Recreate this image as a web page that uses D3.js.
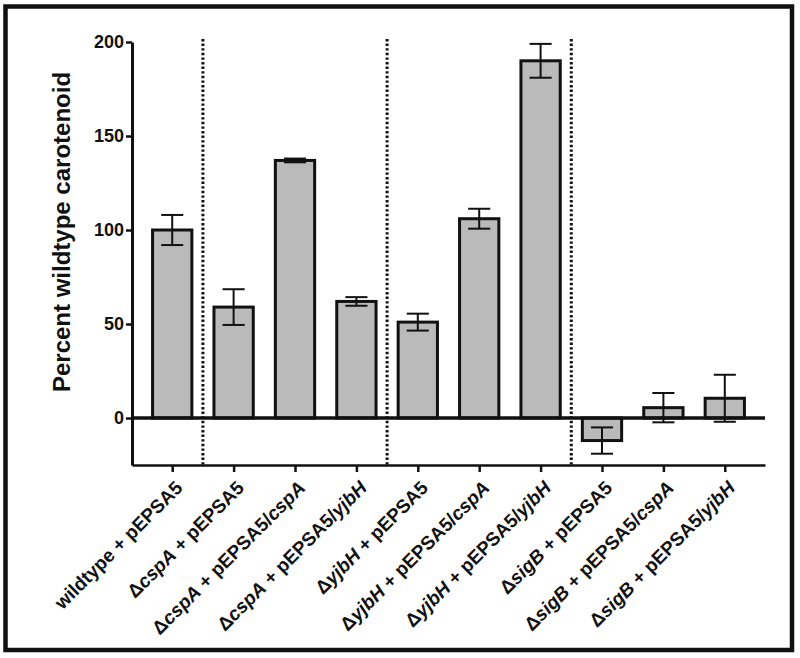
<!DOCTYPE html>
<html>
<head>
<meta charset="utf-8">
<script src="https://cdn.jsdelivr.net/npm/d3@7"></script>
<style>
  body { margin: 0; background: #fff; }
  svg { display: block; }
  text { font-family: "Liberation Sans", Arial, Helvetica, sans-serif; font-weight: bold; fill: #111; }
</style>
</head>
<body>
<svg id="chart" width="800" height="658"></svg>
<script>
// data
const categories = [
  "wildtype + pEPSA5",
  "ΔcspA + pEPSA5",
  "ΔcspA + pEPSA5/cspA",
  "ΔcspA + pEPSA5/yjbH",
  "ΔyjbH + pEPSA5",
  "ΔyjbH + pEPSA5/cspA",
  "ΔyjbH + pEPSA5/yjbH",
  "ΔsigB + pEPSA5",
  "ΔsigB + pEPSA5/cspA",
  "ΔsigB + pEPSA5/yjbH"
];
const means = [100, 59, 137, 62, 51, 106, 190, -12, 5.5, 10.5];
const errors = [8, 9.5, 1, 2.3, 4.5, 5.3, 9, 7, 7.8, 12.5];
const groupStarts = [1, 4, 7];           // index of first bar of each new group
const yTicks = [0, 50, 100, 150, 200];
const yDomain = [-25, 200];
const yTitle = "Percent wildtype carotenoid";

const data = categories.map((c, i) => ({ name: c, mean: means[i], err: errors[i] }));

const svg = d3.select("#chart");
const plotL = 132, plotR = 765, plotT = 42, plotB = 465;
const font = "Liberation Sans, Arial, Helvetica, sans-serif";

// outer frame
svg.append("rect")
  .attr("x", 5.5).attr("y", 6.5)
  .attr("width", 786.5).attr("height", 643.5)
  .attr("fill", "none")
  .attr("stroke", "#111")
  .attr("stroke-width", 4.5);

const x = d3.scalePoint().domain(categories).range([plotL, plotR]).padding(0.655);
const y = d3.scaleLinear().domain(yDomain).range([plotB, plotT]);

const barW = x.step() * 0.64;
const capW = x.step() * 0.36;

// dotted group separators
const seps = groupStarts.map(i => (x(categories[i - 1]) + x(categories[i])) / 2);
svg.selectAll(".sep")
  .data(seps)
  .join("line")
  .attr("class", "sep")
  .attr("x1", d => d).attr("x2", d => d)
  .attr("y1", y(200) - 3).attr("y2", plotB)
  .attr("stroke", "#111")
  .attr("stroke-width", 3)
  .attr("stroke-dasharray", "2.4,2.2");

// bars
svg.selectAll(".bar")
  .data(data)
  .join("rect")
  .attr("class", "bar")
  .attr("x", d => x(d.name) - barW / 2)
  .attr("y", d => y(Math.max(0, d.mean)))
  .attr("width", barW)
  .attr("height", d => Math.abs(y(d.mean) - y(0)))
  .attr("fill", "#bababa")
  .attr("stroke", "#111")
  .attr("stroke-width", 3);

// error bars
const eb = svg.selectAll(".err")
  .data(data)
  .join("g")
  .attr("class", "err")
  .attr("stroke", "#111")
  .attr("stroke-width", 2);
eb.append("line")
  .attr("x1", d => x(d.name)).attr("x2", d => x(d.name))
  .attr("y1", d => y(d.mean + d.err)).attr("y2", d => y(d.mean - d.err));
eb.append("line")
  .attr("x1", d => x(d.name) - capW / 2).attr("x2", d => x(d.name) + capW / 2)
  .attr("y1", d => y(d.mean + d.err)).attr("y2", d => y(d.mean + d.err));
eb.append("line")
  .attr("x1", d => x(d.name) - capW / 2).attr("x2", d => x(d.name) + capW / 2)
  .attr("y1", d => y(d.mean - d.err)).attr("y2", d => y(d.mean - d.err));

// zero line
svg.append("line")
  .attr("x1", plotL).attr("x2", plotR)
  .attr("y1", y(0)).attr("y2", y(0))
  .attr("stroke", "#111")
  .attr("stroke-width", 3.5);

// y axis
const yAxis = svg.append("g")
  .attr("transform", `translate(${plotL},0)`)
  .call(d3.axisLeft(y).tickValues(yTicks).tickSize(6).tickSizeOuter(0).tickPadding(2));
yAxis.select(".domain").attr("stroke", "#111").attr("stroke-width", 3);
yAxis.selectAll(".tick line").attr("stroke", "#111").attr("stroke-width", 2.5);
yAxis.selectAll(".tick text")
  .attr("font-size", 18)
  .attr("font-family", font)
  .attr("font-weight", "bold")
  .attr("fill", "#111");

// x axis
const xAxis = svg.append("g")
  .attr("transform", `translate(0,${plotB})`)
  .call(d3.axisBottom(x).tickSize(7).tickSizeOuter(0));
xAxis.select(".domain").attr("stroke", "#111").attr("stroke-width", 2.5);
xAxis.selectAll(".tick line").attr("stroke", "#111").attr("stroke-width", 2.5);

xAxis.selectAll(".tick text").each(function (d) {
  const t = d3.select(this);
  t.text(null)
    .attr("x", 0).attr("y", 0).attr("dy", null)
    .attr("font-size", 19)
    .attr("font-family", font)
    .attr("font-weight", "bold")
    .attr("fill", "#111")
    .attr("text-anchor", "end")
    .attr("transform", "translate(11,24) rotate(-45)");
  d.split(/(cspA|yjbH|sigB)/).filter(s => s.length).forEach(part => {
    t.append("tspan")
      .attr("font-style", /^(cspA|yjbH|sigB)$/.test(part) ? "italic" : "normal")
      .text(part);
  });
});

// y axis title
svg.append("text")
  .attr("transform", `translate(70,232) rotate(-90)`)
  .attr("text-anchor", "middle")
  .attr("font-size", 24)
  .text(yTitle);
</script>
</body>
</html>
